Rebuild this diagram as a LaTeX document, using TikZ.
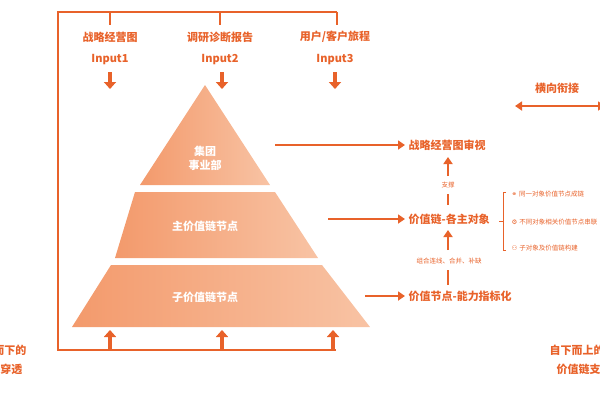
\documentclass[tikz,border=0pt]{standalone}
\usepackage{fontspec}
\setmainfont{Noto Sans CJK SC}
\usetikzlibrary{arrows.meta}
\definecolor{org}{HTML}{E8622A}
\definecolor{pyrA}{HTML}{F39A6C}
\definecolor{pyrB}{HTML}{F8C3A4}
\begin{document}
\begin{tikzpicture}[x=1pt,y=-1pt,
  t/.style={text=org,font=\bfseries\fontsize{11}{13}\selectfont},
  s/.style={text=org,font=\fontsize{6.5}{8}\selectfont},
  w/.style={text=white,font=\bfseries\fontsize{11}{14}\selectfont,align=center},
  ln/.style={draw=org,line width=1.6pt},
  fat/.style={draw=org,line width=3.5pt,-{Triangle[length=7pt,width=12pt]}},
  ar/.style={draw=org,line width=1.8pt,-{Triangle[length=7pt,width=9pt]}}]
\useasboundingbox (0,0) rectangle (600,400);
\clip (0,0) rectangle (600,400);
% frame
\coordinate (fa) at (58,350); \coordinate (fb) at (58,12); \coordinate (fc) at (337,12); \coordinate (fd) at (336,350);
\draw[ln] (fc) -- (fb) -- (fa) -- (fd);
\foreach \x in {110,220,337}{\draw[ln] (\x,12) -- (\x,25);}
% inputs
\node[t] (i1) at (110,37) {战略经营图};
\node[t] (i2) at (220,37) {调研诊断报告};
\node[t] (i3) at (335,37) {用户/客户旅程};
\node[t] (n1) at (110,60) {Input1};
\node[t] (n2) at (220,60) {Input2};
\node[t] (n3) at (335,60) {Input3};
\foreach \x in {110,222,335}{\draw[fat] (\x,72) -- (\x,89);}
% pyramid
\shade[left color=pyrA,right color=pyrB] (205,85) -- (270,185) -- (140,185) -- cycle;
\shade[left color=pyrA,right color=pyrB] (135,192) -- (275,192) -- (318,258) -- (115,258) -- cycle;
\shade[left color=pyrA,right color=pyrB] (111,265) -- (322,265) -- (370,327) -- (72,327) -- cycle;
\node[w] (p1) at (205,158) {集团\\事业部};
\node[w] (p2) at (205,226) {主价值链节点};
\node[w] (p3) at (205,297) {子价值链节点};
% bottom arrows
\foreach \x in {110,222,333}{\draw[fat] (\x,350) -- (\x,330);}
% right side
\node[t,anchor=west] (r1) at (405,145) {战略经营图审视};
\node[t,anchor=west] (r2) at (405,219) {价值链-各主对象};
\node[t,anchor=west] (r3) at (405,296) {价值节点-能力指标化};
\coordinate (a1) at (275,145); \coordinate (a2) at (328,219); \coordinate (a3) at (365,296);
\draw[ar] (a1) -- (a1 -| r1.west);
\draw[ar] (a2) -- (a2 -| r2.west);
\draw[ar] (a3) -- (a3 -| r3.west);
\node[s] (z1) at (448,185) {支撑};
\node[s] (z2) at (449,261) {组合连线、合并、补缺};
\draw[ar] (448,176) -- (448,157);
\draw[ln] (448,205) -- (448,194);
\draw[ar] (448,250) -- (448,230);
\draw[ln] (448,285) -- (448,270);
\draw[draw=org,line width=0.8pt] (506,192) -- (503,192) -- (503,250) -- (506,250);
\draw[draw=org,line width=0.8pt] (499,221) -- (503,221);
\node[s,anchor=west] (b1) at (508,194) {\fontspec{DejaVu Sans}⚭\ \fontspec{Noto Sans CJK SC}同一对象价值节点成链};
\node[s,anchor=west] (b2) at (508,222) {\fontspec{DejaVu Sans}⚙\ \fontspec{Noto Sans CJK SC}不同对象相关价值节点串联};
\node[s,anchor=west] (b3) at (508,248) {\fontspec{DejaVu Sans}⚇\ \fontspec{Noto Sans CJK SC}子对象及价值链构建};
\node[t] (h) at (557,88) {横向衔接};
\draw[draw=org,line width=1.8pt,{Triangle[length=7pt,width=9pt]}-{Triangle[length=7pt,width=9pt]}] (515,106) -- (605,106);
% side texts (cut by picture edge as in reference)
\node[t,anchor=east] (l1) at (30,350) {自上而下的};
\node[t,anchor=east] (l2) at (26,369) {战略穿透};
\node[t,anchor=west] (g1) at (546,350) {自下而上的};
\node[t,anchor=west] (g2) at (553,369) {价值链支撑};
\end{tikzpicture}
\end{document}
